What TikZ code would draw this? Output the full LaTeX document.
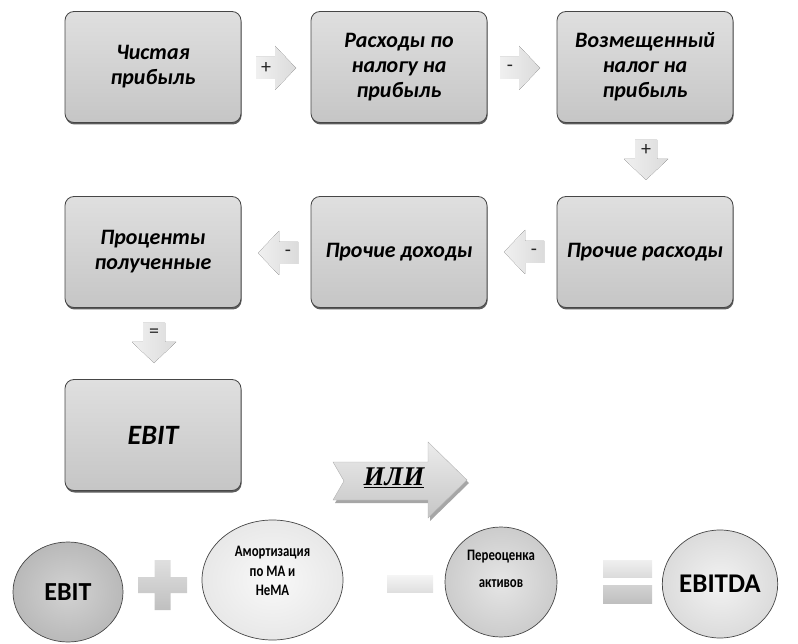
\documentclass[tikz,border=0pt]{standalone}
\usepackage{fontspec}
\setmainfont{Carlito}
\newfontfamily\ilifont{Liberation Serif}
\newfontfamily\narrowfont[FakeStretch=0.8]{Carlito}
\usetikzlibrary{shadows,shapes.geometric}

\tikzset{
  box/.style={draw=gray!55!black, line width=0.8pt, rounded corners=9pt,
    minimum width=176pt, minimum height=111pt, top color=gray!25, bottom color=gray!45,
    align=center, font=\fontsize{22}{25}\selectfont\bfseries\itshape,
    drop shadow={shadow xshift=0.6pt, shadow yshift=-2pt, opacity=0.75, fill=black!85}},
  blkfill/.style={left color=gray!12, right color=gray!28, draw=none},
  blklabel/.style={font=\fontsize{20}{20}\selectfont, inner sep=0pt, text=black!85},
  ell/.style={ellipse, draw=gray!55!black, line width=0.7pt, align=center, inner sep=0pt, font=\bfseries},
  elltext/.style={align=center, inner sep=0pt},
  opfill/.style={draw=none, top color=gray!25, bottom color=gray!50},
}

% #1 name, #2 centre, #3 rotation, #4 label
\newcommand{\blkarrow}[4]{%
  \begin{scope}[shift={#2}, rotate=#3]
    \fill[blkfill] (-20,-11) -- (-1,-11) -- (-1,-22) -- (20,0) -- (-1,22) -- (-1,11) -- (-20,11) -- cycle;
    \node[blklabel] (#1) at (-10,0) {#4};
  \end{scope}}

\begin{document}
\begin{tikzpicture}[x=1pt, y=-1pt]
  \useasboundingbox (0,0) rectangle (798,644);

  % boxes
  \node[box] (b1) at (153,67) {Чистая\\прибыль};
  \node[box] (b2) at (399,67) {Расходы по\\налогу на\\прибыль};
  \node[box] (b3) at (645,67) {Возмещенный\\налог на\\прибыль};
  \node[box] (b4) at (645,252) {Прочие расходы};
  \node[box] (b5) at (399,252) {Прочие доходы};
  \node[box] (b6) at (153,252) {Проценты\\полученные};
  \node[box, font=\fontsize{28}{30}\selectfont\bfseries\itshape] (ebit) at (153,435) {EBIT};

  % block arrows
  \blkarrow{a1}{(276,68)}{0}{+}
  \blkarrow{a2}{(520,68)}{0}{-}
  \blkarrow{a3}{(646,160)}{-90}{+}
  \blkarrow{a4}{(524,252)}{180}{-}
  \blkarrow{a5}{(278,253)}{180}{-}
  \blkarrow{a6}{(154,343)}{-90}{=}

  % ILI arrow
  \fill[black!35] (335,465) -- (346,484) -- (335,503) -- (430,503) -- (430,521) -- (469,483) -- (430,445) -- (430,465) -- cycle;
  \shade[top color=gray!15, bottom color=gray!45, draw=gray!60, line width=0.4pt]
    (333,462) -- (344,481) -- (333,500) -- (428,500) -- (428,518) -- (467,480) -- (428,442) -- (428,462) -- cycle;
  \node[font=\ilifont\fontsize{27}{27}\selectfont\bfseries\itshape, inner sep=0pt] (ili) at (394,478) {\underline{ИЛИ}};

  % bottom formula
  \node[ell, minimum width=110pt, minimum height=100pt, inner color=gray!35, outer color=gray!55, font=\fontsize{26}{28}\selectfont\bfseries] (c1) at (68,592) {EBIT};
  \node[ell, minimum width=141pt, minimum height=120pt, inner color=gray!5, outer color=gray!18] (c2) at (272.5,580) {};
  \node[elltext, font=\narrowfont\fontsize{16}{19.5}\selectfont\bfseries] (c2t) at (c2.center) [yshift=9pt] {Амортизация\\по МА и\\НеМА};
  \node[ell, minimum width=112pt, minimum height=110pt, inner color=gray!20, outer color=gray!40] (c3) at (501,582) {};
  \node[elltext, font=\narrowfont\fontsize{16}{27}\selectfont\bfseries] (c3t) at (c3.center) [yshift=13pt] {Переоценка\\активов};
  \node[ell, minimum width=104pt, minimum height=108pt, inner color=gray!10, outer color=gray!28, font=\fontsize{27}{30}\selectfont\bfseries] (c4) at (720,584) {EBITDA};

  % operators
  \shade[opfill] (154.5,560) -- (170.5,560) -- (170.5,577) -- (187,577) -- (187,593) -- (170.5,593) -- (170.5,610) -- (154.5,610) -- (154.5,593) -- (138,593) -- (138,577) -- (154.5,577) -- cycle;
  \shade[top color=gray!8, bottom color=gray!25] (387,575) rectangle (433,592);
  \shade[top color=gray!12, bottom color=gray!28] (603,560) rectangle (652,577);
  \shade[top color=gray!35, bottom color=gray!50] (603,585) rectangle (652,603);
\end{tikzpicture}
\end{document}
